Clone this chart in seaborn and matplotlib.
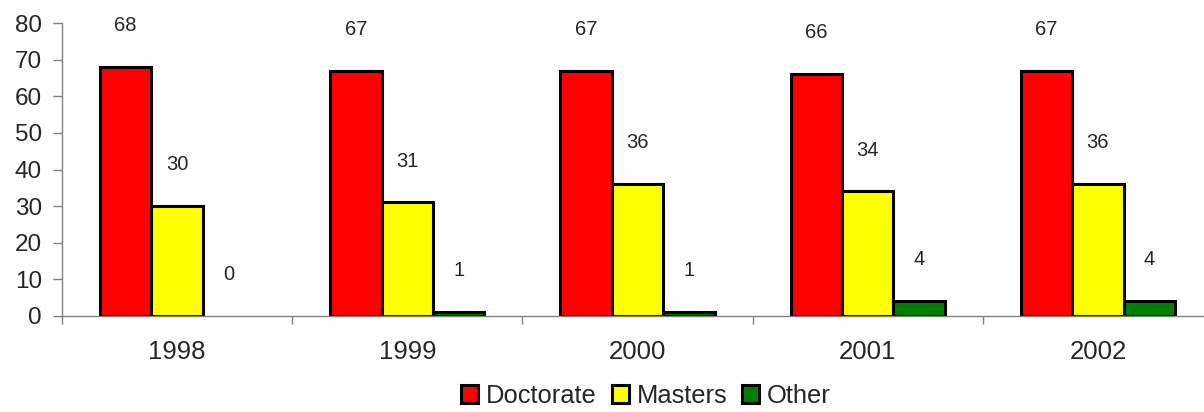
import matplotlib
matplotlib.use("Agg")
import matplotlib.pyplot as plt
import seaborn as sns
import pandas as pd
from matplotlib.ticker import FixedLocator
from matplotlib.patches import Patch

years = ["1998", "1999", "2000", "2001", "2002"]
doctorate = [68, 67, 67, 66, 67]
masters = [30, 31, 36, 34, 36]
other = [0, 1, 1, 4, 4]
series_names = ["Doctorate", "Masters", "Other"]
colors = ["#FF0000", "#FFFF00", "#008000"]

rows = []
for name, vals in zip(series_names, [doctorate, masters, other]):
    for y, v in zip(years, vals):
        rows.append({"year": y, "degree": name, "count": v})
df = pd.DataFrame(rows)

sns.set_style("white")
plt.rcParams["font.family"] = ["Liberation Sans", "DejaVu Sans"]

fig = plt.figure(figsize=(12.04, 4.12), dpi=100)
ax = fig.add_axes([62 / 1204, 1 - 316 / 412, 1 - 62 / 1204, (316 - 23) / 412])

sns.barplot(data=df, x="year", y="count", hue="degree", palette=colors,
            hue_order=series_names, width=0.67, edgecolor="black",
            linewidth=2.2, saturation=1, legend=False, ax=ax)

# value labels float well above each bar, like the original
for cont in ax.containers:
    for p in cont.patches:
        if p.get_height() == 0:
            p.set_linewidth(0)
    ax.bar_label(cont, fmt="%d", padding=23, fontsize=14.5)

ax.set_ylim(0, 80)
ax.set_xlim(-0.5, -0.5 + (1204 - 62) / 230.2)
ax.set_yticks(range(0, 81, 10))
ax.set_xlabel("")
ax.set_ylabel("")

# tick marks sit between the year groups
ax.xaxis.set_minor_locator(FixedLocator([i - 0.5 for i in range(len(years) + 1)]))
ax.tick_params(axis="x", which="major", length=0, pad=17, labelsize=18.5)
ax.tick_params(axis="x", which="minor", length=6, width=1, color="#808080",
               direction="out", bottom=True)
ax.tick_params(axis="y", which="major", length=6.5, width=1, color="#808080",
               direction="out", left=True, pad=8, labelsize=17.5)

sns.despine(ax=ax, top=True, right=True)
for s in ["left", "bottom"]:
    ax.spines[s].set_color("#808080")
    ax.spines[s].set_linewidth(1)

handles = [Patch(facecolor=c, edgecolor="black", linewidth=2.2) for c in colors]
fig.legend(handles, series_names, loc="center", bbox_to_anchor=(646 / 1204, 1 - 396 / 412),
           ncol=3, frameon=False, fontsize=18.4, handlelength=0.66, handleheight=0.66,
           handletextpad=0.31, columnspacing=0.59, borderaxespad=0, borderpad=0)

fig.savefig("out.png", dpi=100)
